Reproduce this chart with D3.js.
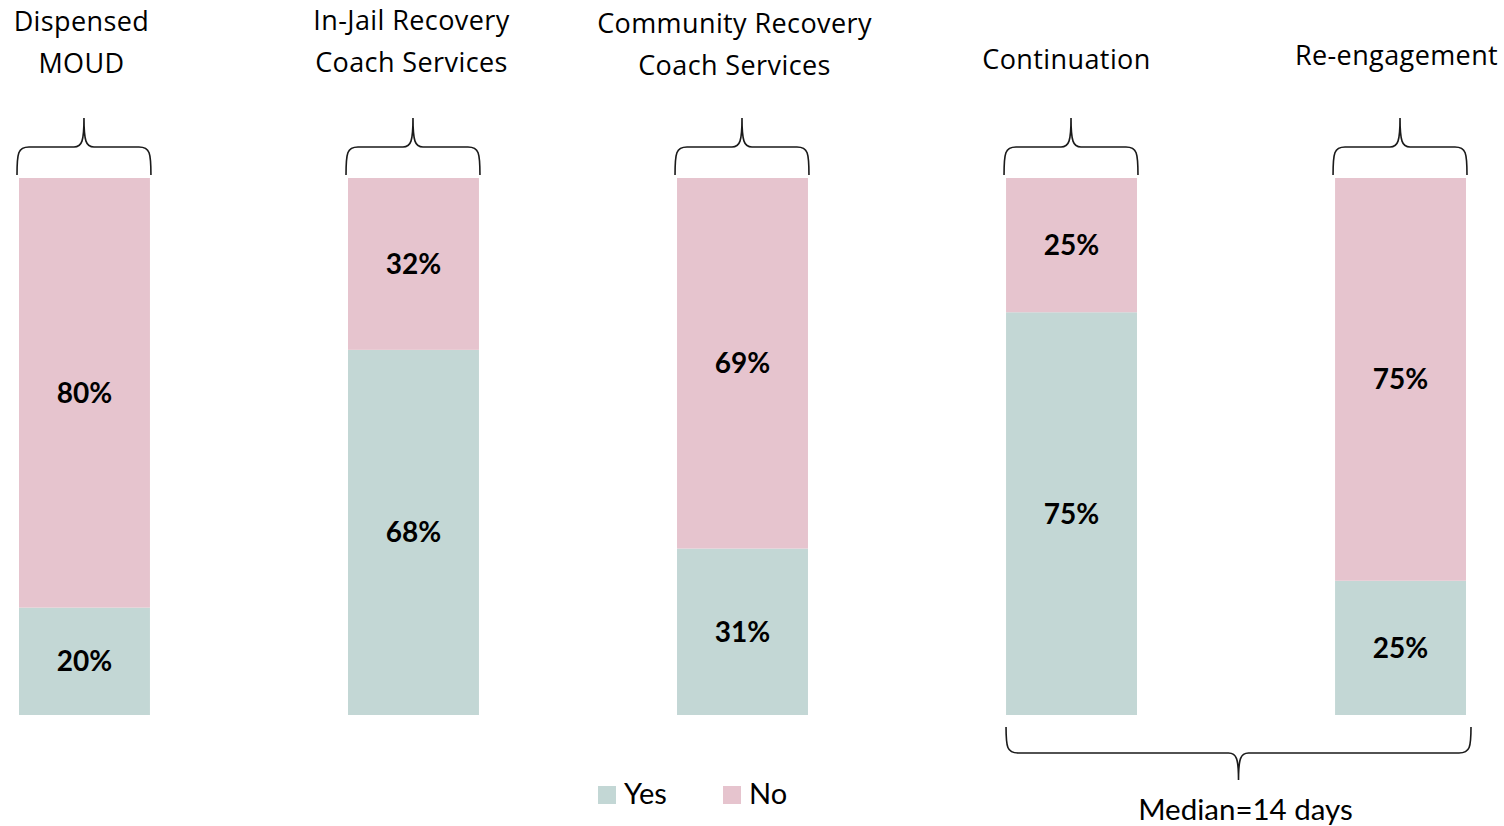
<!DOCTYPE html>
<html>
<head>
<meta charset="utf-8">
<script src="https://cdn.jsdelivr.net/npm/d3@7"></script>
<style>
  body { margin: 0; background: #fff; }
  svg { display: block; }
</style>
</head>
<body>
<svg id="chart" width="1504" height="826"></svg>
<script>
// data
var categories = ["Dispensed MOUD", "In-Jail Recovery Coach Services", "Community Recovery Coach Services", "Continuation", "Re-engagement"];
var titleLines = [["Dispensed", "MOUD"], ["In-Jail Recovery", "Coach Services"], ["Community Recovery", "Coach Services"], ["Continuation"], ["Re-engagement"]];
var yesValues = [20, 68, 31, 75, 25];
var noValues = [80, 32, 69, 25, 75];
var seriesNames = ["Yes", "No"];
var groupNote = "Median=14 days";

// layout
var colors = { Yes: "#C3D7D5", No: "#E6C4CE" };
var titleOffset = [{ dx: -3, y: 31 }, { dx: -2, y: 30 }, { dx: -8, y: 33 }, { dx: -5, y: 69 }, { dx: -4, y: 65 }];
var lineGap = 42;

var svg = d3.select('#chart');

var x = d3.scaleBand()
    .domain(categories)
    .range([19, 1466])
    .paddingInner(0.602)
    .paddingOuter(0);

var y = d3.scaleLinear()
    .domain([0, 100])
    .range([715, 178]);

var rows = categories.map(function (c, i) {
    return { cat: c, Yes: yesValues[i], No: noValues[i] };
});

var stack = d3.stack().keys(seriesNames);
var layers = stack(rows);

var layerG = svg.selectAll('.layer')
    .data(layers)
    .enter()
    .append('g')
    .attr('class', 'layer')
    .style('fill', d => colors[d.key]);

layerG.selectAll('rect')
    .data(d => d)
    .enter()
    .append('rect')
    .attr('x', d => x(d.data.cat))
    .attr('width', x.bandwidth())
    .attr('y', d => y(d[1]))
    .attr('height', d => y(d[0]) - y(d[1]));

// percent labels
layerG.selectAll('text')
    .data(d => d.map(v => ({ v: v, key: d.key })))
    .enter()
    .append('text')
    .attr('x', d => x(d.v.data.cat) + x.bandwidth() / 2)
    .attr('y', d => (y(d.v[0]) + y(d.v[1])) / 2 + 10)
    .attr('text-anchor', 'middle')
    .style('font-family', 'Lato, "Open Sans", sans-serif')
    .style('font-weight', '700')
    .style('font-size', '28px')
    .style('fill', '#000')
    .text(d => d.v.data[d.key] + '%');

// titles
var titles = svg.selectAll('.title')
    .data(categories)
    .enter()
    .append('text')
    .attr('class', 'title')
    .attr('text-anchor', 'middle')
    .style('font-family', '"Open Sans", sans-serif')
    .style('font-size', '27px')
    .style('letter-spacing', '0.4px')
    .style('fill', '#000');

titles.each(function (c, i) {
    var t = d3.select(this);
    titleLines[i].forEach(function (line, j) {
        t.append('tspan')
            .attr('x', x(c) + x.bandwidth() / 2 + titleOffset[i].dx)
            .attr('y', titleOffset[i].y + j * lineGap)
            .text(line);
    });
});

// braces
function bracePath(x0, x1, yEnd, yMid, yTip) {
    var xm = (x0 + x1) / 2;
    var s = yTip < yMid ? -1 : 1; // direction of tip
    return 'M' + x0 + ',' + yEnd +
        ' C' + x0 + ',' + (yMid - s * 6) + ' ' + (x0 + 1) + ',' + yMid + ' ' + (x0 + 12) + ',' + yMid +
        ' L' + (xm - 10) + ',' + yMid +
        ' C' + (xm - 2) + ',' + yMid + ' ' + xm + ',' + (yMid + s * 6) + ' ' + xm + ',' + yTip +
        ' C' + xm + ',' + (yMid + s * 6) + ' ' + (xm + 2) + ',' + yMid + ' ' + (xm + 10) + ',' + yMid +
        ' L' + (x1 - 12) + ',' + yMid +
        ' C' + (x1 - 1) + ',' + yMid + ' ' + x1 + ',' + (yMid - s * 6) + ' ' + x1 + ',' + yEnd;
}

svg.selectAll('.brace')
    .data(categories)
    .enter()
    .append('path')
    .attr('class', 'brace')
    .attr('d', c => bracePath(x(c) - 2, x(c) + x.bandwidth() + 1, 175, 147, 118))
    .style('fill', 'none')
    .style('stroke', '#1a1a1a')
    .style('stroke-width', 1.6);

var gx0 = x(categories[3]);
var gx1 = x(categories[4]) + x.bandwidth() + 5;
svg.append('path')
    .attr('d', bracePath(gx0, gx1, 727, 753, 780))
    .style('fill', 'none')
    .style('stroke', '#1a1a1a')
    .style('stroke-width', 1.6);

svg.append('text')
    .attr('x', (gx0 + gx1) / 2 + 7)
    .attr('y', 820)
    .attr('text-anchor', 'middle')
    .style('font-family', 'Lato, sans-serif')
    .style('font-size', '29.5px')
    .style('fill', '#000')
    .text(groupNote);

// legend
var legend = svg.selectAll('.legend')
    .data(seriesNames)
    .enter()
    .append('g')
    .attr('class', 'legend')
    .attr('transform', (d, i) => 'translate(' + (598 + i * 125) + ',786)');

legend.append('rect')
    .attr('width', 18)
    .attr('height', 18)
    .style('fill', d => colors[d]);

legend.append('text')
    .attr('x', 26)
    .attr('y', 18)
    .style('font-family', 'Lato, sans-serif')
    .style('font-size', '29px')
    .style('fill', '#000')
    .text(d => d);
</script>
</body>
</html>
